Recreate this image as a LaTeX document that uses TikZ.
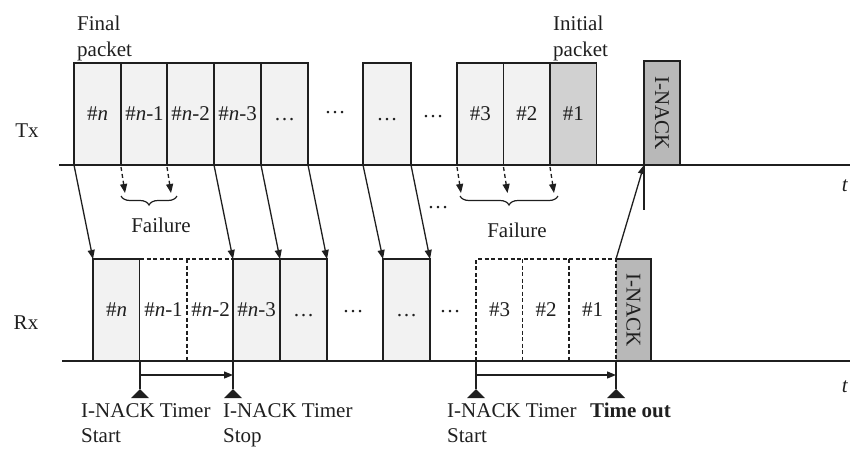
\documentclass[tikz,border=0pt]{standalone}
\usepackage{fontspec}
\setmainfont{Liberation Serif}
\usetikzlibrary{arrows.meta,decorations.pathreplacing}
\definecolor{lightbox}{gray}{0.95}
\definecolor{midbox}{gray}{0.82}
\definecolor{darkbox}{gray}{0.72}
\definecolor{ink}{gray}{0.12}
\begin{document}
\begin{tikzpicture}[x=1pt,y=-1pt,
  lbl/.style={font=\fontsize{21}{26}\selectfont, inner sep=0pt, text=ink},
  pkt/.style={draw=ink, line width=1.2pt, fill=lightbox, minimum width=47pt,
    minimum height=102pt, inner sep=0pt, outer sep=0pt, anchor=south west,
    font=\fontsize{21}{26}\selectfont, text=ink},
  ghost/.style={pkt, draw=none, fill=white},
  axis/.style={draw=ink, line width=1.8pt},
  tip/.style={-{Triangle[length=9pt,width=7pt]}},
  sendarrow/.style={draw=ink, line width=1.3pt, tip},
  failarrow/.style={draw=ink, line width=1.3pt, tip, dash pattern=on 4pt off 3pt},
  dashedge/.style={draw=ink, line width=1.2pt, dash pattern=on 4pt off 2.5pt},
  bracefail/.style={draw=ink, line width=1.2pt, decorate,
    decoration={brace, mirror, amplitude=9pt}},
  timerline/.style={draw=ink, line width=1.3pt}
]
\useasboundingbox (0,0) rectangle (850,448);

% ---------- Tx packets ----------
\node[pkt] (t1) at (74,165) {\#\textit{n}};
\node[pkt] (t2) at (121,165) {\#\textit{n}-1};
\node[pkt] (t3) at (167,165) {\#\textit{n}-2};
\node[pkt] (t4) at (214,165) {\#\textit{n}-3};
\node[pkt] (t5) at (261,165) {\vphantom{\#\textit{n}}\ldots};
\node[pkt, minimum width=48pt] (t6) at (363,165) {\vphantom{\#\textit{n}}\ldots};
\node[pkt, minimum width=46.5pt] (t7) at (457,165) {\#3};
\node[pkt, minimum width=46.5pt] (t8) at (503.5,165) {\#2};
\node[pkt, minimum width=46.5pt, fill=midbox] (t9) at (550,165) {\#1};
\node[pkt, minimum width=36pt, minimum height=104pt, fill=darkbox, line width=1.5pt]
  (ti) at (644,165) {\rotatebox{-90}{I-NACK}};

% ---------- Rx packets ----------
\node[pkt] (r1) at (93,361) {\#\textit{n}};
\node[ghost] (r2) at (140,361) {\#\textit{n}-1};
\node[ghost] (r3) at (187,361) {\#\textit{n}-2};
\node[pkt] (r4) at (233,361) {\#\textit{n}-3};
\node[pkt] (r5) at (280,361) {\vphantom{\#\textit{n}}\ldots};
\node[pkt] (r6) at (383,361) {\vphantom{\#\textit{n}}\ldots};
\node[ghost] (r7) at (476,361) {\#3};
\node[ghost] (r8) at (522.5,361) {\#2};
\node[ghost] (r9) at (569,361) {\#1};
\node[pkt, draw=none, minimum width=35pt, fill=darkbox] (ri) at (616,361)
  {\rotatebox{-90}{I-NACK}};
\draw[draw=ink, line width=1.5pt] (ri.north west) -- (ri.north east) -- (ri.south east);

% dashed (lost) packets at Rx
\draw[dashedge] (r2.north west) -- (r3.north east);
\draw[dashedge] (r3.north west) -- (r3.south west);
\draw[dashedge] (r7.south west) -- (r7.north west) -- (r9.north east) -- (r9.south east);
\draw[dashedge] (r8.north west) -- (r8.south west);
\draw[dashedge] (r9.north west) -- (r9.south west);

% ---------- axes ----------
\coordinate (txs) at (59,165);
\coordinate (txe) at (850,165);
\coordinate (rxs) at (62,361);
\coordinate (rxe) at (850,361);
\draw[axis] (txs) -- (txe);
\draw[axis] (rxs) -- (rxe);

% ---------- labels ----------
\node[lbl] (tx) at (27,131) {Tx};
\node[lbl] (rx) at (26,323) {Rx};
\node[lbl] (tt) at (845,186) {\textit{t}};
\node[lbl] (rt) at (845,387) {\textit{t}};
\node[lbl, anchor=west, align=left] (fin) at (77,38) {Final\\packet};
\node[lbl, anchor=west, align=left] (ini) at (553,38) {Initial\\packet};

% free dots
\node[lbl] (d1) at (335,113) {\ldots};
\node[lbl] (d2) at (433,117) {\ldots};
\node[lbl] (d3) at (438,208) {\ldots};
\node[lbl] (d4) at (353,312) {\ldots};
\node[lbl] (d5) at (450,312) {\ldots};

% ---------- transmissions ----------
\draw[sendarrow] (t1.south west) -- (r1.north west);
\draw[sendarrow] (t4.south west) -- (r4.north west);
\draw[sendarrow] (t5.south west) -- (r5.north west);
\draw[sendarrow] (t5.south east) -- (r5.north east);
\draw[sendarrow] (t6.south west) -- (r6.north west);
\draw[sendarrow] (t6.south east) -- (r6.north east);
\draw[sendarrow] (r9.north east) -- (ti.south west);
\coordinate (tiend) at (644,210);
\draw[timerline] (ti.south west) -- (tiend);

% failed transmissions
\foreach \p in {t2,t3,t7,t8,t9}{
  \draw[failarrow] ([yshift=-2pt]\p.south west) -- ([xshift=4pt,yshift=-28pt]\p.south west);
}
\coordinate (b1a) at (121,196);
\coordinate (b1b) at (177,196);
\coordinate (b2a) at (460,196);
\coordinate (b2b) at (558,196);
\draw[bracefail] (b1a) -- (b1b);
\draw[bracefail] (b2a) -- (b2b);
\node[lbl] (f1) at (161,225) {Failure};
\node[lbl] (f2) at (517,230) {Failure};

% ---------- timers ----------
\foreach \a/\k in {r2.south west/k1, r4.south west/k2, r7.south west/k3, r9.south east/k4}{
  \coordinate (\k) at ([yshift=-28pt]\a);
  \draw[timerline] (\a) -- (\k);
  \fill[ink] (\k) -- ++(-9,9) -- ++(18,0) -- cycle;
}
\draw[timerline, tip] ([yshift=-14pt]r2.south west) -- ([yshift=-14pt]r4.south west);
\draw[timerline, tip] ([yshift=-14pt]r7.south west) -- ([yshift=-14pt]r9.south east);

\node[lbl, anchor=north west, align=left, font=\fontsize{21}{25}\selectfont] (s1) at (81,403) {I-NACK Timer\\Start};
\node[lbl, anchor=north west, align=left, font=\fontsize{21}{25}\selectfont] (s2) at (223,403) {I-NACK Timer\\Stop};
\node[lbl, anchor=north west, align=left, font=\fontsize{21}{25}\selectfont] (s3) at (447,403) {I-NACK Timer\\Start};
\node[lbl, anchor=north west] (s4) at (590,403) {\textbf{Time out}};
\end{tikzpicture}
\end{document}
